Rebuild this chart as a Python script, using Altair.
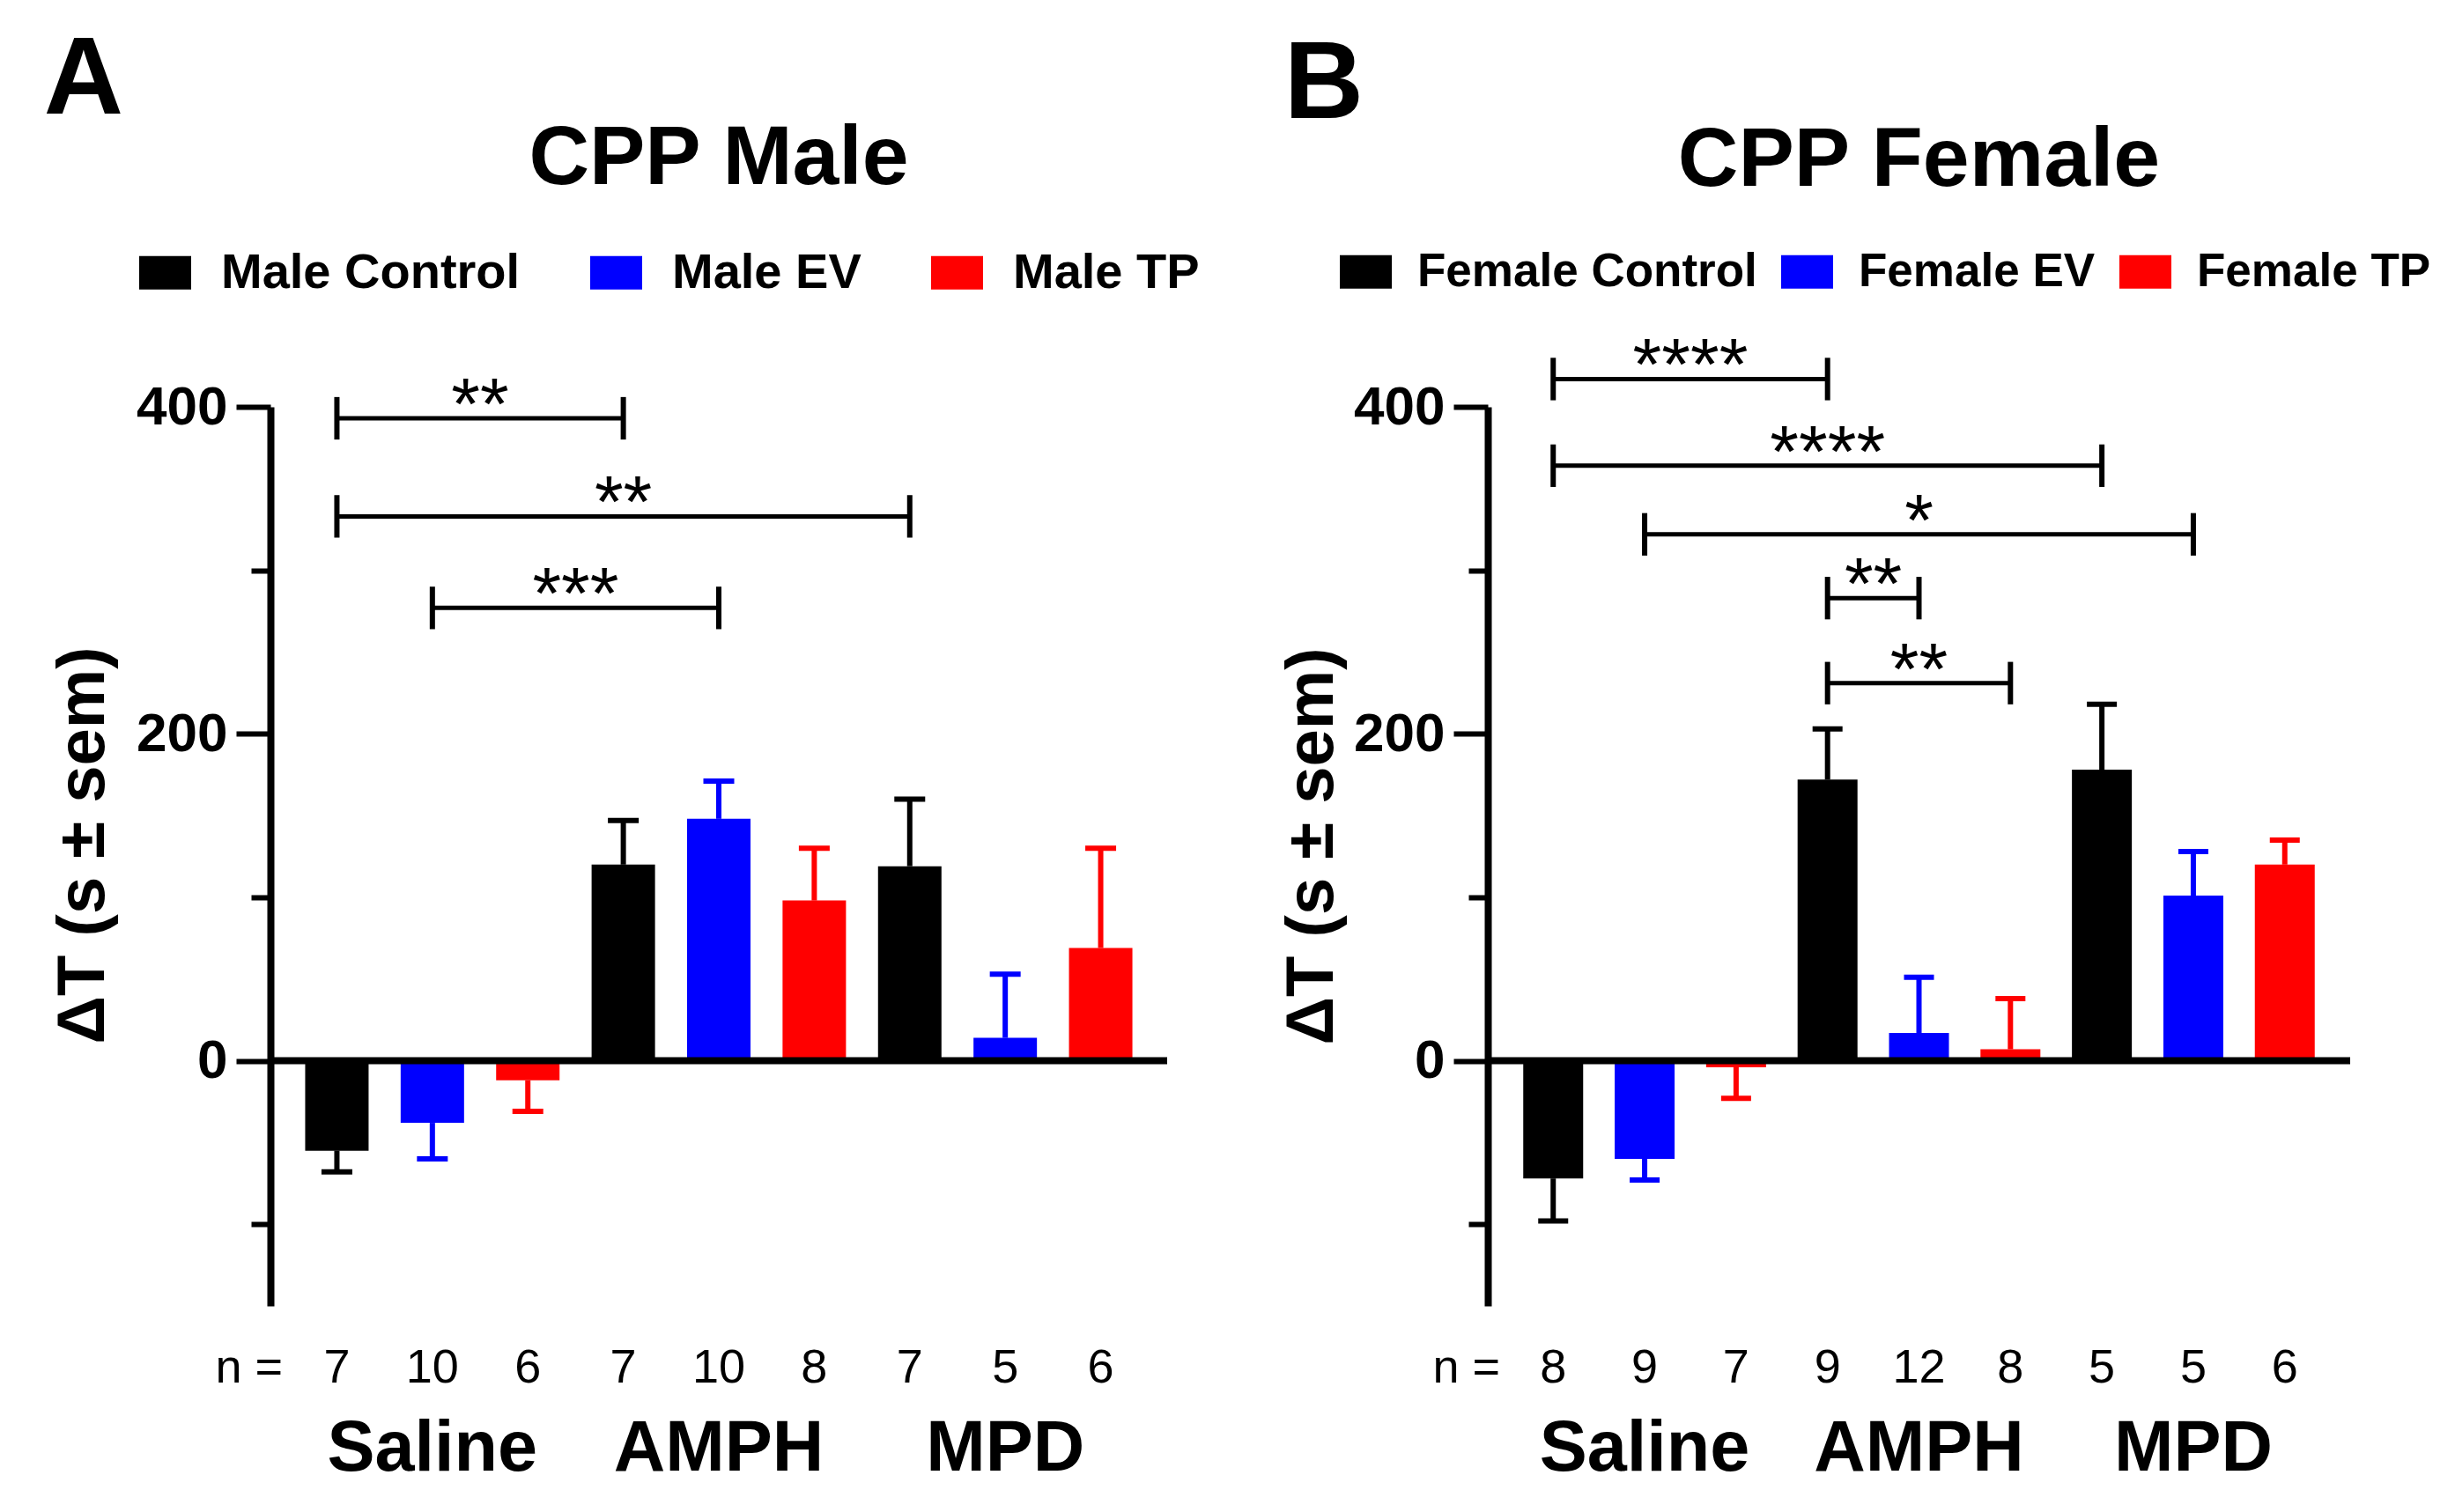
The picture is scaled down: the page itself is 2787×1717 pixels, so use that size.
import altair as alt
import pandas as pd

FONT = "Liberation Sans"

groups = ["Saline", "AMPH", "MPD"]
male_treatments = ["Male Control", "Male EV", "Male TP"]
female_treatments = ["Female Control", "Female EV", "Female TP"]
treatment_colors = ["#000000", "#0000FF", "#FF0000"]

male_mean = [-55, -38, -12, 120, 148, 98, 119, 14, 69]
male_sem = [13, 22, 19, 27, 23, 32, 41, 39, 61]
male_n = [7, 10, 6, 7, 10, 8, 7, 5, 6]

female_mean = [-72, -60, -4, 172, 17, 7, 178, 101, 120]
female_sem = [26, 13, 19, 31, 34, 31, 40, 27, 15]
female_n = [8, 9, 7, 9, 12, 8, 5, 5, 6]

male_sig_from = [0, 0, 1]
male_sig_to = [3, 6, 4]
male_sig_y = [393, 333, 277]
male_sig_label = ["**", "**", "***"]

female_sig_from = [0, 0, 1, 3, 3]
female_sig_to = [3, 6, 7, 4, 5]
female_sig_y = [417, 364, 322, 283, 231]
female_sig_label = ["****", "****", "*", "**", "**"]

y_major = [0, 200, 400]
y_minor = [-100, 100, 300]
y_domain = [-150, 400]

SWATCH = "M-1,-0.644L1,-0.644L1,0.644L-1,0.644Z"


def make_panel(treats, means, sems, ns, sf, st, sy, sl, W, H, dom_pad, bar_w, cap_w,
               letter, letter_x, letter_y, title, title_y, yt_x, yt_y,
               leg_x, leg_y, leg_fs, leg_off, leg_cp):
    rows = []
    for i in range(9):
        m, s = means[i], sems[i]
        rows.append(dict(pos=i, group=groups[i // 3], treatment=treats[i % 3],
                         col=treatment_colors[i % 3], mean=m,
                         err=m + s if m >= 0 else m - s, n=str(ns[i])))
    df = pd.DataFrame(rows)

    sig = pd.DataFrame(dict(a=sf, b=st, y=sy, label=sl))
    sig["mid"] = (sig["a"] + sig["b"]) / 2
    ends = pd.DataFrame(dict(x=list(sf) + list(st), y=list(sy) + list(sy)))
    ends["lo"] = ends["y"] - 13
    ends["hi"] = ends["y"] + 13

    xs = alt.Scale(domain=[-dom_pad, 8 + dom_pad], nice=False, zero=False)
    ys = alt.Scale(domain=y_domain, nice=False, zero=False)
    X = alt.X("pos:Q", scale=xs, axis=None)

    bars = alt.Chart(df).mark_bar(size=bar_w, opacity=1).encode(
        x=X,
        y=alt.Y("mean:Q", scale=ys, axis=alt.Axis(
            values=y_major, tickSize=39, tickWidth=6, tickColor="black",
            domainColor="black", domainWidth=8, labelFont=FONT, labelFontSize=62,
            labelFontWeight="bold", labelColor="black", labelPadding=10,
            grid=False, title=None, orient="left")),
        y2=alt.datum(0),
        color=alt.Color("treatment:N",
                        scale=alt.Scale(domain=treats, range=treatment_colors),
                        legend=alt.Legend(
                            title=None, orient="none", legendX=leg_x, legendY=leg_y,
                            direction="horizontal", symbolType=SWATCH,
                            symbolSize=59 * 59, symbolStrokeWidth=0, symbolOpacity=1,
                            labelFont=FONT, labelFontSize=leg_fs, labelFontWeight="bold",
                            labelColor="black", labelOffset=leg_off,
                            columnPadding=leg_cp, labelLimit=0, padding=0)),
    )

    minor = alt.Chart(df).mark_point(opacity=0).encode(
        y=alt.Y("mean:Q", scale=ys, axis=alt.Axis(
            values=y_minor, tickSize=22, tickWidth=6, tickColor="black",
            labels=False, domain=False, grid=False, title=None, orient="left")),
    )

    stems = alt.Chart(df).mark_rule(strokeWidth=6, opacity=1).encode(
        x=X, y=alt.Y("mean:Q", scale=ys, axis=None), y2="err:Q",
        color=alt.Color("col:N", scale=None))
    caps = alt.Chart(df).mark_tick(orient="horizontal", size=cap_w, thickness=6,
                                   opacity=1).encode(
        x=X, y=alt.Y("err:Q", scale=ys, axis=None),
        color=alt.Color("col:N", scale=None))

    zero = alt.Chart(pd.DataFrame({"z": [0]})).mark_rule(strokeWidth=8, color="black").encode(
        y=alt.Y("z:Q", scale=ys, axis=None))

    hlines = alt.Chart(sig).mark_rule(strokeWidth=5, color="black").encode(
        x=alt.X("a:Q", scale=xs, axis=None), x2="b:Q",
        y=alt.Y("y:Q", scale=ys, axis=None))
    vticks = alt.Chart(ends).mark_rule(strokeWidth=6, color="black").encode(
        x=alt.X("x:Q", scale=xs, axis=None),
        y=alt.Y("lo:Q", scale=ys, axis=None), y2="hi:Q")
    stars = alt.Chart(sig).mark_text(font=FONT, fontSize=84, baseline="alphabetic",
                                     dy=13, color="black").encode(
        x=alt.X("mid:Q", scale=xs, axis=None),
        y=alt.Y("y:Q", scale=ys, axis=None), text="label:N")

    nlab = alt.Chart(df).mark_text(font=FONT, fontSize=54, baseline="alphabetic",
                                   color="black").encode(
        x=X, y=alt.value(H + 87), text="n:N")
    neq = alt.Chart(pd.DataFrame({"t": ["n ="]})).mark_text(
        font=FONT, fontSize=54, baseline="alphabetic", align="right", color="black").encode(
        x=alt.value(14), y=alt.value(H + 87), text="t:N")

    gdf = pd.DataFrame(dict(group=groups, pos=[1, 4, 7]))
    glab = alt.Chart(gdf).mark_text(font=FONT, fontSize=81, fontWeight="bold",
                                    baseline="alphabetic", color="black").encode(
        x=alt.X("pos:Q", scale=xs, axis=None), y=alt.value(H + 187), text="group:N")

    ytitle = alt.Chart(pd.DataFrame({"t": ["ΔT (s ± sem)"]})).mark_text(
        font=FONT, fontSize=76, fontWeight="bold", angle=270, align="center",
        baseline="middle", color="black").encode(
        x=alt.value(yt_x), y=alt.value(yt_y), text="t:N")

    ttl = alt.Chart(pd.DataFrame({"t": [title]})).mark_text(
        font=FONT, fontSize=95, fontWeight="bold", baseline="alphabetic",
        align="center", color="black").encode(
        x=alt.value(W / 2), y=alt.value(title_y), text="t:N")

    let = alt.Chart(pd.DataFrame({"t": [letter]})).mark_text(
        font=FONT, fontSize=125, fontWeight="bold", baseline="alphabetic",
        align="center", color="black").encode(
        x=alt.value(letter_x), y=alt.value(letter_y), text="t:N")

    return alt.layer(bars, minor, stems, caps, zero, hlines, vticks, stars,
                     nlab, neq, glab, ytitle, ttl, let).resolve_axis(
        y="independent").properties(width=W, height=H)


panel_a = make_panel(male_treatments, male_mean, male_sem, male_n,
                     male_sig_from, male_sig_to, male_sig_y, male_sig_label,
                     W=1018, H=1021, dom_pad=0.65, bar_w=72, cap_w=35,
                     letter="A", letter_x=-212, letter_y=-333,
                     title="CPP Male", title_y=-253, yt_x=-212, yt_y=498,
                     leg_x=-149, leg_y=-182, leg_fs=56, leg_off=34, leg_cp=79)

panel_b = make_panel(female_treatments, female_mean, female_sem, female_n,
                     female_sig_from, female_sig_to, female_sig_y, female_sig_label,
                     W=979, H=1021, dom_pad=0.667, bar_w=68, cap_w=34,
                     letter="B", letter_x=-186, letter_y=-328,
                     title="CPP Female", title_y=-251, yt_x=-199, yt_y=499,
                     leg_x=-168, leg_y=-183, leg_fs=53, leg_off=29, leg_cp=27)

chart = alt.hconcat(panel_a, panel_b, spacing=90).resolve_scale(
    color="independent", x="independent", y="independent"
).properties(
    padding={"left": 41, "top": 21, "right": 0, "bottom": 0},
    background="white",
).configure(
    font=FONT, view=alt.ViewConfig(stroke=None)
)

chart.save("out.html", embed_options={"renderer": "svg", "actions": False})
